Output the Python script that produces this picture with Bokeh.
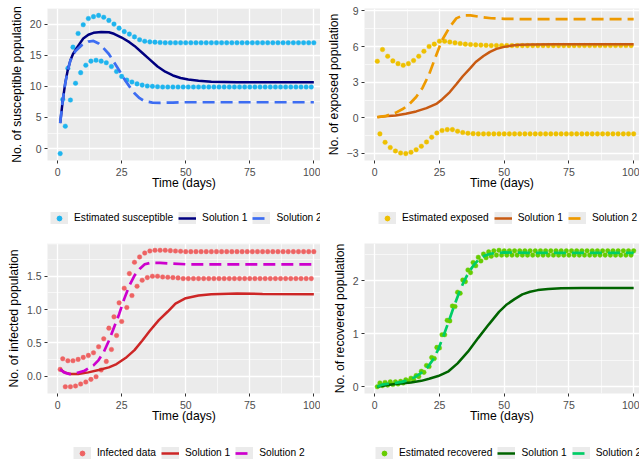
from bokeh.plotting import figure
from bokeh.models import Range1d, FixedTicker, Legend, LegendItem, NumeralTickFormatter
from bokeh.layouts import gridplot
from bokeh.embed import file_html
from bokeh.resources import INLINE

FONT = "Liberation Sans"
NAN = float("nan")

# ---------------- data ----------------
days_even = list(range(2, 101, 2))
days_odd = list(range(1, 100, 2))

# Susceptible
sus_upper = [7.9, 12.9, 16.3, 18.5, 19.9, 20.9, 21.2, 21.4, 21.1, 20.6,
             20.0, 19.35, 18.8, 18.4, 17.95, 17.5, 17.25, 17.15, 17.1, 17.05,
             17.0, 17.0, 17.0, 17.0, 17.0, 17.0, 17.0, 17.0, 17.0, 17.0,
             17.0, 17.0, 17.0, 17.0, 17.0, 17.0, 17.0, 17.0, 17.0, 17.0,
             17.0, 17.0, 17.0, 17.0, 17.0, 17.0, 17.0, 17.0, 17.0, 17.0]
sus_lower = [-0.8, 3.6, 7.8, 10.5, 12.2, 13.4, 14.05, 14.2, 14.05, 13.8,
             13.2, 12.4, 11.6, 11.0, 10.7, 10.4, 10.2, 10.05, 10.0, 9.95,
             9.9, 9.9, 9.9, 9.9, 9.9, 9.9, 9.9, 9.9, 9.9, 9.9,
             9.9, 9.9, 9.9, 9.9, 9.9, 9.9, 9.9, 9.9, 9.9, 9.9,
             9.9, 9.9, 9.9, 9.9, 9.9, 9.9, 9.9, 9.9, 9.9, 9.9]
sus_s1_x = [1, 2, 3, 4, 5, 6, 8, 10, 12, 14, 17, 20, 22, 25, 28, 30, 33, 36, 39, 42,
            45, 48, 51, 55, 60, 65, 70, 80, 90, 100]
sus_s1_y = [4.1, 7.7, 10.6, 12.7, 14.2, 15.2, 16.5, 17.7, 18.3, 18.6, 18.75, 18.7, 18.45,
            17.85, 17.1, 16.5, 15.4, 14.3, 13.2, 12.35, 11.75, 11.35, 11.1, 10.9, 10.75,
            10.7, 10.65, 10.65, 10.65, 10.65]
sus_s2_x = [1, 2, 3, 4, 5, 7, 9.5, 12, 14, 16, 18, 20, 22, 24, 26, 28, 30, 32, 34, 37,
            40, 45, 50, 60, 100]
sus_s2_y = [4.1, 7.8, 10.5, 12.6, 14.2, 15.7, 16.65, 17.2, 17.3, 16.9, 16.1, 15.2, 13.9,
            12.6, 11.2, 10.0, 8.9, 8.1, 7.6, 7.4, 7.35, 7.4, 7.45, 7.45, 7.45]

# Exposed
exp_upper = [4.76, 5.75, 5.18, 4.79, 4.56, 4.42, 4.56, 4.82, 5.18, 5.6,
             6.0, 6.2, 6.45, 6.45, 6.38, 6.31, 6.25, 6.2, 6.17, 6.14,
             6.12, 6.1, 6.08, 6.08, 6.08, 6.08, 6.08, 6.08, 6.08, 6.08,
             6.08, 6.08, 6.08, 6.08, 6.08, 6.08, 6.08, 6.08, 6.08, 6.08,
             6.08, 6.08, 6.08, 6.08, 6.08, 6.08, 6.08, 6.08, 6.08, 6.08]
exp_lower = [-1.35, -2.06, -2.5, -2.79, -2.96, -3.01, -2.9, -2.68, -2.39, -2.03,
             -1.63, -1.27, -1.07, -0.99, -0.99, -1.13, -1.24, -1.3, -1.33, -1.35,
             -1.35, -1.35, -1.35, -1.35, -1.35, -1.35, -1.35, -1.35, -1.35, -1.35,
             -1.35, -1.35, -1.35, -1.35, -1.35, -1.35, -1.35, -1.35, -1.35, -1.35,
             -1.35, -1.35, -1.35, -1.35, -1.35, -1.35, -1.35, -1.35, -1.35, -1.35]
exp_s1_x = [1, 4, 8, 12, 16, 20, 24, 26, 29, 31.5, 34, 37, 39, 42, 44.5, 47, 50, 53, 56,
            60, 70, 100]
exp_s1_y = [0.06, 0.14, 0.2, 0.34, 0.54, 0.82, 1.2, 1.55, 2.17, 2.82, 3.5, 4.2, 4.7, 5.2,
            5.55, 5.8, 5.97, 6.08, 6.14, 6.18, 6.2, 6.2]
exp_s2_x = [1, 4, 8, 11, 13.5, 16, 18.5, 21, 23.5, 26, 29, 31.5, 34, 37, 40.5, 45, 50, 60, 100]
exp_s2_y = [0.06, 0.14, 0.42, 0.76, 1.18, 1.75, 2.54, 3.66, 5.13, 6.54, 7.66, 8.37, 8.62,
            8.62, 8.5, 8.38, 8.33, 8.3, 8.3]

# Infected
inf_upper = [0.26, 0.23, 0.23, 0.25, 0.28, 0.31, 0.35, 0.44, 0.56, 0.72,
             0.89, 1.10, 1.32, 1.54, 1.71, 1.79, 1.85, 1.88, 1.89, 1.89,
             1.89, 1.885, 1.88, 1.875, 1.87, 1.87, 1.87, 1.87, 1.87, 1.87,
             1.87, 1.87, 1.87, 1.87, 1.87, 1.87, 1.87, 1.87, 1.87, 1.87,
             1.87, 1.87, 1.87, 1.87, 1.87, 1.87, 1.87, 1.87, 1.87, 1.87]
inf_lower = [0.10, -0.16, -0.16, -0.15, -0.12, -0.09, -0.05, -0.01, 0.09, 0.22,
             0.40, 0.61, 0.82, 1.03, 1.21, 1.35, 1.44, 1.48, 1.50, 1.50,
             1.49, 1.485, 1.48, 1.475, 1.465, 1.465, 1.465, 1.465, 1.465, 1.465,
             1.465, 1.465, 1.465, 1.465, 1.465, 1.465, 1.465, 1.465, 1.465, 1.465,
             1.465, 1.465, 1.465, 1.465, 1.465, 1.465, 1.465, 1.465, 1.465, 1.465]
inf_s1_x = [1, 3, 5, 8, 12, 16, 20, 23, 26.5, 30, 33, 36, 39.5, 43, 46, 50, 55, 60, 70, 80, 100]
inf_s1_y = [0.1, 0.05, 0.03, 0.03, 0.055, 0.09, 0.13, 0.18, 0.27, 0.39, 0.53, 0.68, 0.84,
            0.97, 1.09, 1.17, 1.21, 1.23, 1.24, 1.235, 1.23]
inf_s2_x = [1, 2.5, 4.5, 7, 10.5, 14, 16, 18, 20, 22, 24, 26, 28, 30, 32, 34, 36, 40, 50, 60, 100]
inf_s2_y = [0.1, 0.055, 0.03, 0.04, 0.08, 0.16, 0.24, 0.36, 0.53, 0.73, 0.93, 1.16, 1.36,
            1.51, 1.61, 1.68, 1.70, 1.70, 1.68, 1.68, 1.68]

# Recovered
rec_upper = [0.07, 0.08, 0.09, 0.09, 0.10, 0.13, 0.16, 0.21, 0.29, 0.40,
             0.55, 0.74, 0.98, 1.25, 1.52, 1.78, 2.01, 2.20, 2.34, 2.44,
             2.50, 2.54, 2.56, 2.57, 2.56, 2.56, 2.56, 2.56, 2.56, 2.56,
             2.56, 2.56, 2.56, 2.56, 2.56, 2.56, 2.56, 2.56, 2.56, 2.56,
             2.56, 2.56, 2.56, 2.56, 2.56, 2.56, 2.56, 2.56, 2.56, 2.56]
rec_lower = [0.0, 0.02, 0.03, 0.04, 0.05, 0.07, 0.10, 0.14, 0.19, 0.27,
             0.38, 0.53, 0.73, 0.98, 1.24, 1.51, 1.76, 1.98, 2.15, 2.28,
             2.37, 2.43, 2.46, 2.48, 2.48, 2.48, 2.48, 2.48, 2.48, 2.48,
             2.48, 2.48, 2.48, 2.48, 2.48, 2.48, 2.48, 2.48, 2.48, 2.48,
             2.48, 2.48, 2.48, 2.48, 2.48, 2.48, 2.48, 2.48, 2.48, 2.48]
rec_s1_x = [1, 5, 8, 14, 18, 21, 24.5, 28.5, 32, 36, 40, 44, 48, 51, 54, 57, 60, 63, 67, 72,
            80, 100]
rec_s1_y = [0.0, 0.03, 0.05, 0.08, 0.11, 0.15, 0.2, 0.29, 0.44, 0.66, 0.92, 1.17, 1.41, 1.55,
            1.65, 1.74, 1.79, 1.82, 1.84, 1.855, 1.86, 1.86]
rec_s2_x = [1, 3, 5, 8, 10.5, 13, 15.5, 18, 20.5, 22.5, 24.5, 26.5, 28.5, 30.5, 32.5, 34.5,
            36.5, 38.5, 40.5, 42.5, 45, 50, 60, 100]
rec_s2_y = [0.0, 0.04, 0.055, 0.07, 0.09, 0.125, 0.18, 0.26, 0.37, 0.51, 0.70, 0.95, 1.22,
            1.50, 1.76, 1.99, 2.17, 2.31, 2.41, 2.47, 2.51, 2.53, 2.52, 2.52]

x_ticks = [0, 25, 50, 75, 100]
x_minor = [12.5, 37.5, 62.5, 87.5]

DOT = 4.6
W1, W2 = 2.5, 2.7
DASH = "12 6"


def make_panel(width, height, x_end, y_rng, y_ticks, y_minor, y_label, bl, bt, bb, fmt=None):
    p = figure(width=width, height=height, x_range=Range1d(-3.95, x_end),
               y_range=Range1d(*y_rng), output_backend="svg", toolbar_location=None,
               min_border_left=bl, min_border_right=0, min_border_top=bt,
               min_border_bottom=bb)
    p.background_fill_color = "#EBEBEB"
    p.border_fill_color = "white"
    p.outline_line_color = None
    p.xaxis.ticker = FixedTicker(ticks=x_ticks, minor_ticks=x_minor)
    p.yaxis.ticker = FixedTicker(ticks=y_ticks, minor_ticks=y_minor)
    if fmt:
        p.yaxis.formatter = NumeralTickFormatter(format=fmt)
    for ax in (p.xaxis[0], p.yaxis[0]):
        ax.axis_line_color = None
        ax.major_tick_line_color = "#333333"
        ax.major_tick_line_width = 1
        ax.major_tick_out = 3
        ax.major_tick_in = 0
        ax.minor_tick_line_color = None
        ax.major_label_text_font = FONT
        ax.major_label_text_font_size = "10.5px"
        ax.major_label_text_color = "#4D4D4D"
        ax.axis_label_text_font = FONT
        ax.axis_label_text_font_size = "12.2px"
        ax.axis_label_text_font_style = "normal"
        ax.axis_label_text_color = "black"
    p.xaxis.major_label_standoff = 3
    p.xaxis.axis_label_standoff = -3
    p.yaxis.major_label_standoff = 2
    p.yaxis.axis_label_standoff = 3
    p.xaxis.axis_label = "Time (days)"
    p.yaxis.axis_label = y_label
    p.grid.grid_line_color = "white"
    p.grid.grid_line_width = 1.3
    p.grid.minor_grid_line_color = "white"
    p.grid.minor_grid_line_width = 0.6
    return p


def fill_panel(p, up, lo, s1x, s1y, s2x, s2y, c_dot, c1, c2):
    p.scatter(days_even, up, size=DOT, fill_color=c_dot, line_color=c_dot, line_width=0.4)
    p.scatter(days_odd, lo, size=DOT, fill_color=c_dot, line_color=c_dot, line_width=0.4)
    p.line(s1x, s1y, line_color=c1, line_width=W1)
    p.line(s2x, s2y, line_color=c2, line_width=W2, line_dash=DASH)


def legend_fig(width, height, c_dot, c1, c2, labels, loc):
    f = figure(width=width, height=height, x_range=Range1d(0, 1), y_range=Range1d(0, 1),
               output_backend="svg", toolbar_location=None, x_axis_type=None,
               y_axis_type=None, min_border=0, min_border_left=0, min_border_right=0,
               min_border_top=0, min_border_bottom=0)
    f.outline_line_color = None
    f.background_fill_color = "white"
    f.border_fill_color = "white"
    f.grid.visible = False
    # legend-only renderers (NaN data: nothing drawn in the plot area)
    bg = f.line(x=[NAN], y=[NAN], line_color="#EBEBEB", line_width=19, line_cap="butt")
    rd = f.scatter(x=[NAN], y=[NAN], size=DOT, fill_color=c_dot, line_color=c_dot)
    r1 = f.line(x=[NAN], y=[NAN], line_color=c1, line_width=W1)
    r2 = f.line(x=[NAN], y=[NAN], line_color=c2, line_width=W2, line_dash=DASH)
    items = [LegendItem(label=labels[0], renderers=[bg, rd]),
             LegendItem(label=labels[1], renderers=[bg, r1]),
             LegendItem(label=labels[2], renderers=[bg, r2])]
    leg = Legend(items=items, orientation="horizontal", location=loc,
                 glyph_width=18, glyph_height=12, label_height=12, label_width=10,
                 label_standoff=6, spacing=5, padding=0, margin=0,
                 background_fill_alpha=0, border_line_color=None,
                 label_text_font=FONT, label_text_font_size="10.2px",
                 label_text_color="black")
    f.add_layout(leg)
    return f


p1 = make_panel(320, 196, 102.6, (-1.91, 22.51), [0, 5, 10, 15, 20], [2.5, 7.5, 12.5, 17.5, 22.5],
                "No. of susceptible population", 47, 8, 36)
fill_panel(p1, sus_upper, sus_lower, sus_s1_x, sus_s1_y, sus_s2_x, sus_s2_y,
           "#1EB4EE", "#000080", "#3D6DF2")
l1 = legend_fig(320, 34, "#1EB4EE", "#000080", "#3D6DF2",
                ["Estimated susceptible", "Solution 1", "Solution 2"], (3, 6.5))

p2 = make_panel(319, 196, 102.25, (-3.59, 9.2), [-3, 0, 3, 6, 9], [-1.5, 1.5, 4.5, 7.5],
                "No. of exposed population", 44, 8, 36)
fill_panel(p2, exp_lower, exp_upper, exp_s1_x, exp_s1_y, exp_s2_x, exp_s2_y,
           "#EEC000", "#C85A12", "#EE9A00")
l2 = legend_fig(319, 34, "#EEC000", "#C85A12", "#EE9A00",
                ["Estimated exposed", "Solution 1", "Solution 2"], (14, 6.5))

p3 = make_panel(320, 199, 102.6, (-0.2625, 1.9925), [0, 0.5, 1, 1.5, 2], [0.25, 0.75, 1.25, 1.75],
                "No. of infected population", 47, 13, 36, fmt="0.0")
fill_panel(p3, inf_upper, inf_lower, inf_s1_x, inf_s1_y, inf_s2_x, inf_s2_y,
           "#EE6363", "#CD2626", "#CD00CD")
l3 = legend_fig(320, 32, "#EE6363", "#CD2626", "#CD00CD",
                ["Infected data", "Solution 1", "Solution 2"], (26, 2.5))

p4 = make_panel(319, 199, 102.25, (-0.1285, 2.6985), [0, 1, 2], [0.5, 1.5, 2.5],
                "No. of recovered population", 44, 13, 36)
fill_panel(p4, rec_upper, rec_lower, rec_s1_x, rec_s1_y, rec_s2_x, rec_s2_y,
           "#66CD00", "#006400", "#00CD66")
l4 = legend_fig(319, 32, "#66CD00", "#006400", "#00CD66",
                ["Estimated recovered", "Solution 1", "Solution 2"], (11, 2.5))

grid = gridplot([[p1, p2], [l1, l2], [p3, p4], [l3, l4]], toolbar_location=None)

open("out.html", "w").write(file_html(grid, INLINE))
